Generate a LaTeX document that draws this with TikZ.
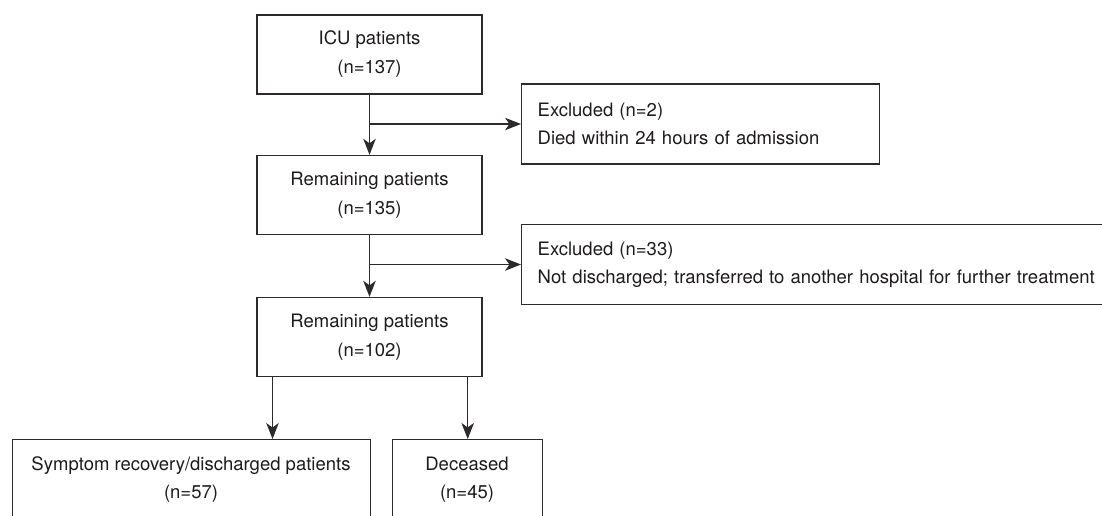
\documentclass[tikz,border=0pt]{standalone}
\usepackage{fontspec}
\setmainfont{TeX Gyre Heros}
\usetikzlibrary{arrows.meta}
\definecolor{ln}{HTML}{2E2A2A}
\definecolor{tx}{HTML}{1E1A1B}
\begin{document}
\begin{tikzpicture}[x=1pt,y=-1pt,
  font=\fontsize{18.5}{29}\selectfont,
  box/.style={draw=ln, line width=1.4pt, minimum width=225pt, minimum height=79pt, align=center, text=tx, inner sep=0pt},
  exbox/.style={draw=ln, line width=1.4pt, minimum height=80pt, align=left, text=tx, inner ysep=0pt, inner xsep=16pt, anchor=west, font=\fontsize{18.5}{28}\selectfont},
  endbox/.style={draw=ln, line width=1.4pt, minimum height=120pt, anchor=north west, inner sep=0pt},
  txt/.style={align=center, text=tx, inner sep=0pt, font=\fontsize{18.5}{28}\selectfont},
  arr/.style={draw=ln, line width=1.4pt, -{Stealth[length=16pt,width=12.5pt,inset=4.5pt]}}]
\useasboundingbox (0,0) rectangle (1102,515);
\clip (0,0) rectangle (1102,515);

\node[box] (icu) at (369.5,54.5) {ICU patients\\(n=137)};
\node[box] (rem1) at (369.5,195) {Remaining patients\\(n=135)};
\node[box] (rem2) at (369.5,337) {Remaining patients\\(n=102)};

\node[exbox, text width=326pt] (ex1) at (521,124) {Excluded (n=2)\\Died within 24 hours of admission};
\node[exbox, text width=640pt] (ex2) at (521,264.5) {Excluded (n=33)\\Not discharged; transferred to another hospital for further treatment};

\node[endbox, minimum width=358pt] (sym) at (12,439) {};
\node[endbox, minimum width=150pt] (dec) at (392,439) {};
\node[txt] (symt) at (191,480) {Symptom recovery/discharged patients\\(n=57)};
\node[txt] (dect) at (467,480) {Deceased\\(n=45)};

\draw[arr] (icu.south) -- (rem1.north);
\draw[arr] (icu.south |- ex1.west) -- (ex1.west);
\draw[arr] (rem1.south) -- (rem2.north);
\draw[arr] (rem1.south |- ex2.west) -- (ex2.west);
\draw[arr] ([xshift=-97pt]rem2.south) -- ([xshift=-97pt]rem2.south |- sym.north);
\draw[arr] (dec.north |- rem2.south) -- (dec.north);
\end{tikzpicture}
\end{document}
